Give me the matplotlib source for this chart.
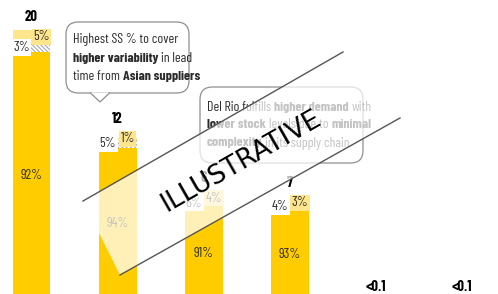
import matplotlib
matplotlib.use("Agg")
import matplotlib.pyplot as plt
from matplotlib.patches import FancyBboxPatch, Polygon
import numpy as np

# ---------------- data ----------------
categories = ["A", "B", "C", "D", "E", "F"]
totals = [20, 12, 7.7, 7.3, 0.05, 0.05]          # bar heights as drawn
total_labels = ["20", "12", "6", "7", "<0.1", "<0.1"]
main_pct = [92, 94, 91, 93, 0, 0]                # yellow base segment
ss_pct = [3, 5, 6, 4, 0, 0]                      # hatched segment
extra_pct = [5, 1, 4, 3, 0, 0]                   # pale top segment

callout1 = [[("Highest SS % to cover", False)],
            [("higher variability", True), ("in lead", False)],
            [("time from", False), ("Asian suppliers", True)]]
callout2 = [[("Del Rio fulfills", False), ("higher demand", True), ("with", False)],
            [("lower stock", True), ("levels due to", False), ("minimal", True)],
            [("complexity", True), ("in its supply chain", False)]]
watermark = "ILLUSTRATIVE"

# ---------------- style ----------------
W, H, DPI = 498, 294, 100
YELLOW = "#FFCC00"
PALE = "#FFE68C"
HATCH_C = "#a8a8a8"
TXT = "#2b2b2b"
FAM = ["Barlow Condensed", "DejaVu Sans"]
plt.rcParams["font.family"] = FAM
plt.rcParams["hatch.linewidth"] = 0.8

fig = plt.figure(figsize=(W / DPI, H / DPI), dpi=DPI)
ax = fig.add_axes([0, 0, 1, 1])
ax.axis("off")

px_per_unit = 13.5
base_px = 300  # baseline in pixels from top (just below figure)
x0_px, step_px = 31.5, 86.1
ax.set_ylim((base_px - H) / px_per_unit, base_px / px_per_unit)
ax.set_xlim(-x0_px / step_px, (W - x0_px) / step_px)

x = np.arange(len(categories))
bw = 0.44
tot = np.array(totals, float)
m = np.array(main_pct, float)
s = np.array(ss_pct, float)
e = np.array(extra_pct, float)
ssum = m + s + e
ssum[ssum == 0] = 1
h_main = tot * m / ssum
h_ss = tot * s / ssum
h_ex = tot * e / ssum
h_main[m == 0] = tot[m == 0]

ax.bar(x, h_main, bw, color=YELLOW, linewidth=0, zorder=2)
ax.bar(x, h_ss, bw, bottom=h_main, color="white", edgecolor=HATCH_C,
       linewidth=0, hatch="\\" * 8, zorder=2)
ax.bar(x, h_ex, bw, bottom=h_main + h_ss, color=PALE, linewidth=0, zorder=2)

dx = 10 / step_px
for i in range(len(x)):
    if main_pct[i] > 0:
        ax.text(x[i], h_main[i] / 2, f"{main_pct[i]}%", ha="center", va="center",
                fontsize=10, color=TXT, zorder=3)
        yc_ss = h_main[i] + h_ss[i] / 2
        yc_ex = h_main[i] + h_ss[i] + h_ex[i] / 2
        ax.text(x[i] - dx, yc_ss, f"{ss_pct[i]}%", ha="center", va="center",
                fontsize=10, color=TXT, zorder=3,
                bbox=dict(boxstyle="square,pad=0.12", fc="white", ec="none"))
        ax.text(x[i] + dx, yc_ex, f"{extra_pct[i]}%", ha="center", va="center",
                fontsize=10, color=TXT, zorder=3,
                bbox=dict(boxstyle="square,pad=0.12", fc=PALE, ec="none"))
        ax.annotate(total_labels[i], (x[i], yc_ex), xytext=(0, 20 * 72 / DPI),
                    textcoords="offset points", ha="center", va="center",
                    fontsize=10.5, fontweight="bold", color="black", zorder=3,
                    annotation_clip=False)
    else:
        ax.annotate(total_labels[i], (x[i], tot[i]), xytext=(0, 12 * 72 / DPI),
                    textcoords="offset points", ha="center", va="center",
                    fontsize=10.5, fontweight="bold", color="black", zorder=3,
                    annotation_clip=False)


def fx(px):
    return px / W


def fy(py):
    return 1 - py / H


renderer = fig.canvas.get_renderer()


def text_w(txt, bold, size):
    t = fig.text(0, 0, txt, fontsize=size, fontweight="bold" if bold else "normal")
    w = t.get_window_extent(renderer).width
    t.remove()
    return w


def rich(lines, x_px, y_px, lead, size=10):
    sp = text_w("a a", False, size) - text_w("aa", False, size)
    for li, parts in enumerate(lines):
        cx = x_px
        for txt, bold in parts:
            t = fig.text(fx(cx), fy(y_px + li * lead), txt, fontsize=size,
                         fontweight="bold" if bold else "normal", color=TXT,
                         ha="left", va="center", zorder=5)
            cx += t.get_window_extent(renderer).width + sp


def box(x1, y1, x2, y2, ec="#8f8f8f"):
    p = FancyBboxPatch((fx(x1), fy(y2)), fx(x2) - fx(x1), fy(y1) - fy(y2),
                       boxstyle="round,pad=0,rounding_size=0.025",
                       transform=fig.transFigure, fc="white", ec=ec, lw=0.9,
                       zorder=4, mutation_aspect=W / H)
    fig.add_artist(p)


# callout 1 with pointer
box(66, 22, 189, 93)
tri = Polygon([(fx(90), fy(92.5)), (fx(100), fy(102)), (fx(110), fy(92.5))],
              closed=False, transform=fig.transFigure, fc="white", ec="#8f8f8f",
              lw=0.9, zorder=4.5)
fig.add_artist(tri)
rich(callout1, 73, 40, 18)

# callout 2
box(200, 87, 363, 163)
rich(callout2, 207, 107, 18)

# watermark band
corners = [(83, 201), (343, 52), (400, 118), (120, 275)]
band = Polygon([(fx(a), fy(b)) for a, b in corners], closed=True,
               transform=fig.transFigure, fc="white", ec="none", alpha=0.72,
               zorder=6)
fig.add_artist(band)
for (a1, b1), (a2, b2) in [(corners[0], corners[1]), (corners[3], corners[2])]:
    fig.add_artist(plt.Line2D([fx(a1), fx(a2)], [fy(b1), fy(b2)],
                              transform=fig.transFigure, color="#555555",
                              lw=1.0, zorder=7))
fig.text(fx(241.5), fy(161), watermark, fontsize=19, family="DejaVu Sans",
         rotation=29.7, rotation_mode="anchor", ha="center", va="center",
         color="black", zorder=8)

fig.savefig("out.png", dpi=DPI)
